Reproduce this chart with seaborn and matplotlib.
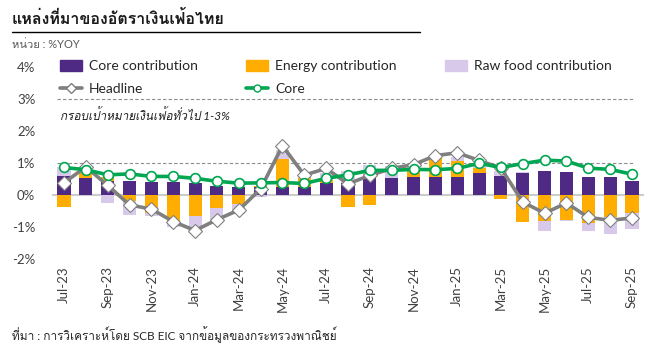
import numpy as np
import pandas as pd
import matplotlib
matplotlib.use('Agg')
import matplotlib.pyplot as plt
from matplotlib import font_manager
from matplotlib.ft2font import FT2Font
from matplotlib.patches import Patch
from matplotlib.lines import Line2D
import seaborn as sns

sns.set_style('white')


# find any installed font that has Thai glyphs
def find_thai_font():
    for f in font_manager.fontManager.ttflist:
        try:
            if ord('ก') in FT2Font(f.fname).get_charmap():
                return f.name
        except Exception:
            pass
    return None


thai = find_thai_font()
fams = ['Lato'] + ([thai] if thai else []) + ['DejaVu Sans']
plt.rcParams['font.family'] = fams

months = pd.date_range('2023-07-01', periods=27, freq='MS').strftime('%b-%y').tolist()

core_contrib = [0.60, 0.53, 0.43, 0.44, 0.41, 0.41, 0.37, 0.28, 0.25, 0.24, 0.24, 0.25, 0.36, 0.36,
                0.52, 0.54, 0.56, 0.56, 0.56, 0.68, 0.59, 0.69, 0.75, 0.71, 0.56, 0.56, 0.43]
energy_contrib = [-0.39, 0.16, 0.14, -0.19, -0.55, -0.90, -0.67, -0.40, -0.28, 0.03, 0.88, 0.29, 0.10, -0.36,
                  -0.31, 0.0, 0.20, 0.59, 0.50, 0.17, -0.12, -0.83, -0.81, -0.78, -0.89, -0.70, -0.55]
rawfood_contrib = [0.26, 0.10, -0.24, -0.43, -0.12, -0.11, -0.50, -0.44, -0.31, -0.05, 0.28, 0.05, 0.23, 0.40,
                   0.41, 0.38, 0.15, 0.05, 0.14, 0.08, 0.17, 0.02, -0.30, -0.03, -0.23, -0.51, -0.51]
headline = [0.38, 0.88, 0.30, -0.31, -0.44, -0.83, -1.11, -0.77, -0.47, 0.19, 1.54, 0.62, 0.83, 0.35,
            0.61, 0.83, 0.95, 1.23, 1.32, 1.08, 0.84, -0.22, -0.57, -0.25, -0.70, -0.79, -0.72]
core = [0.86, 0.79, 0.63, 0.66, 0.58, 0.58, 0.52, 0.43, 0.37, 0.38, 0.39, 0.36, 0.52, 0.63,
        0.77, 0.77, 0.80, 0.79, 0.83, 0.99, 0.86, 0.98, 1.09, 1.06, 0.84, 0.80, 0.65]

c_core = '#4F2A84'
c_energy = '#FFAD00'
c_raw = '#D8C9EB'
c_head = '#7F7F7F'
c_coreline = '#00A651'

fig = plt.figure(figsize=(6.49, 3.62), dpi=100)
ax = fig.add_axes([52 / 649, 103 / 362, 592 / 649, 192 / 362])

x = np.arange(len(months))

# stacked bars, positives up and negatives down
pos = np.zeros(len(x))
neg = np.zeros(len(x))
for vals, col in [(core_contrib, c_core), (energy_contrib, c_energy), (rawfood_contrib, c_raw)]:
    v = np.array(vals)
    bottom = np.where(v >= 0, pos, neg)
    ax.bar(x, v, bottom=bottom, width=0.6, color=col, linewidth=0, zorder=2)
    pos = pos + np.clip(v, 0, None)
    neg = neg + np.clip(v, None, 0)

ax.axhline(0, color='#CCCCCC', lw=1.5, zorder=1)
ax.hlines([1, 3], -0.3, 26.05, colors='#8C8C8C', linestyles=(0, (3, 2)), lw=0.8, zorder=1)

sns.lineplot(x=x, y=headline, ax=ax, color=c_head, lw=2.6, marker='D', markersize=7,
             markerfacecolor='white', markeredgecolor=c_head, markeredgewidth=0.8, zorder=4)
sns.lineplot(x=x, y=core, ax=ax, color=c_coreline, lw=2.6, marker='o', markersize=7,
             markerfacecolor='white', markeredgecolor=c_coreline, markeredgewidth=1.2, zorder=5)

ax.set_xlim(-0.55, 26.55)
ax.set_ylim(-2, 4)
ax.set_yticks(range(-2, 5))
ax.set_yticklabels([f'{v}%' for v in range(-2, 5)], fontsize=9.5, color='#404040')
ax.set_xticks(x[::2])
ax.set_xticklabels(months[::2], rotation=90, fontsize=9.5, color='#404040')
ax.tick_params(axis='y', length=0, pad=12)
ax.tick_params(axis='x', length=0, pad=5)
sns.despine(ax=ax, left=True, bottom=True)

ax.text(-0.2, 2.5, 'กรอบเป้าหมายเงินเฟ้อทั่วไป 1-3%', fontsize=8.5, style='italic',
        color='#222222', ha='left', va='center')

handles = [Patch(color=c_core),
           Line2D([], [], color=c_head, lw=2.6, marker='D', markersize=5,
                  markerfacecolor='white', markeredgecolor=c_head),
           Patch(color=c_energy),
           Line2D([], [], color=c_coreline, lw=2.6, marker='o', markersize=5,
                  markerfacecolor='white', markeredgecolor=c_coreline),
           Patch(color=c_raw)]
labels = ['Core contribution', 'Headline', 'Energy contribution', 'Core', 'Raw food contribution']
ax.legend(handles, labels, ncol=3, loc='upper left', bbox_to_anchor=(60 / 649, 1 - 60 / 362),
          bbox_transform=fig.transFigure, frameon=False, fontsize=10, borderpad=0, borderaxespad=0,
          handlelength=1.6, handleheight=0.8, handletextpad=0.5, columnspacing=3.45, labelspacing=0.78)

fig.text(12 / 649, 1 - 18 / 362, 'แหล่งที่มาของอัตราเงินเฟ้อไทย', fontsize=11.5, fontweight='bold',
         color='#1A1A1A', ha='left', va='center')
fig.add_artist(Line2D([12 / 649, 420 / 649], [1 - 32 / 362, 1 - 32 / 362], color='black', lw=1))
fig.text(12 / 649, 1 - 44 / 362, 'หน่วย : %YOY', fontsize=8, color='#595959', ha='left', va='center')
fig.text(12 / 649, 1 - 335 / 362, 'ที่มา : การวิเคราะห์โดย SCB EIC จากข้อมูลของกระทรวงพาณิชย์',
         fontsize=8.5, color='#262626', ha='left', va='center')

fig.savefig('out.png', dpi=100)
